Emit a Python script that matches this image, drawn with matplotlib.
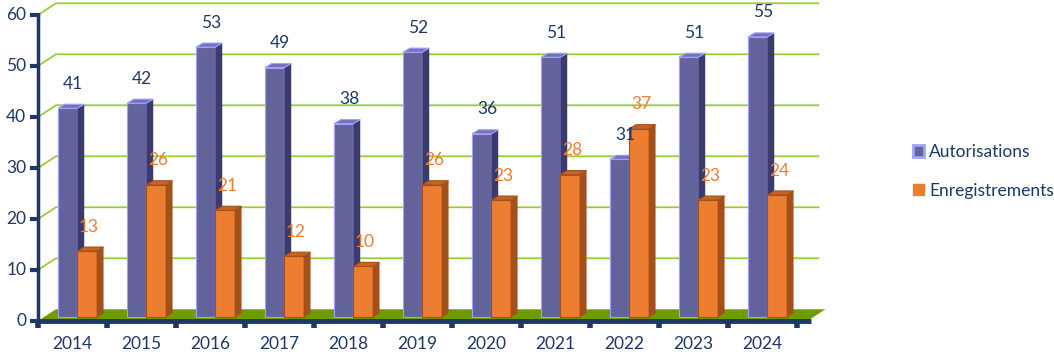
import matplotlib.pyplot as plt
from matplotlib.patches import Polygon, Patch
import numpy as np

years = ["2014", "2015", "2016", "2017", "2018", "2019", "2020", "2021", "2022", "2023", "2024"]
autorisations = [41, 42, 53, 49, 38, 52, 36, 51, 31, 51, 55]
enregistrements = [13, 26, 21, 12, 10, 26, 23, 28, 37, 23, 24]

plt.rcParams["font.family"] = ["Lato", "DejaVu Sans"]

navy = "#1f3864"
grid_green = "#9acd32"
floor_green = "#6f9a00"
blue_front, blue_side, blue_top, blue_edge = "#63639c", "#3b3b6b", "#7272b8", "#a0a0ff"
or_front, or_side, or_top = "#ed7d31", "#a4501b", "#c8641f"

# depth offsets (data units)
WDX, WDY = 0.26, 2.3     # back wall
BDX, BDY = 0.10, 0.8     # bar depth
BASE = 0.7               # bars stand a little into the floor
bw = 0.28
fs = 12.5

fig = plt.figure(figsize=(10.54, 3.52), dpi=100)
ax = fig.add_axes([38 / 1054, 31 / 352, 759 / 1054, 306 / 352])
ax.set_xlim(0, 11)
ax.set_ylim(0, 60)
ax.axis("off")

n = len(years)
x = np.arange(n)

# back wall grid lines
for v in range(10, 61, 10):
    ax.plot([0, WDX, n + WDX + 0.05], [v, v + WDY, v + WDY], color=grid_green,
            lw=1.3, clip_on=False, zorder=1)

# floor
ax.add_patch(Polygon([(0, 0), (n + 0.15, 0), (n + 0.15 + WDX, WDY), (WDX, WDY)],
                     closed=True, facecolor=floor_green, edgecolor="none",
                     clip_on=False, zorder=2))


def bar3d(x0, v, front, side, top, edge, z):
    b = BASE
    ax.bar(x0, v, width=bw, bottom=b, align="edge", color=front, edgecolor=edge,
           linewidth=0.8, zorder=z, clip_on=False)
    t = v + b
    ax.add_patch(Polygon([(x0 + bw, b), (x0 + bw + BDX, b + BDY), (x0 + bw + BDX, t + BDY),
                          (x0 + bw, t)], closed=True, facecolor=side, edgecolor="none",
                         zorder=z + 0.1, clip_on=False))
    ax.add_patch(Polygon([(x0, t), (x0 + BDX, t + BDY), (x0 + bw + BDX, t + BDY),
                          (x0 + bw, t)], closed=True, facecolor=top, edgecolor=edge,
                         linewidth=0.8, zorder=z + 0.2, clip_on=False))


for i in range(n):
    xb = x[i] + 0.29
    xo = xb + bw
    bar3d(xb, autorisations[i], blue_front, blue_side, blue_top, blue_edge, 3 + i)
    bar3d(xo, enregistrements[i], or_front, or_side, or_top, or_side, 3.5 + i)
    ax.text(xb + bw / 2 + 0.08, autorisations[i] + 5.5, str(autorisations[i]),
            ha="center", va="center", fontsize=fs, color=navy, zorder=30)
    ax.text(xo + bw / 2 + 0.03, enregistrements[i] + 5.5, str(enregistrements[i]),
            ha="center", va="center", fontsize=fs, color=or_front, zorder=30)

# axes lines
ax.plot([0, 0], [0, 60], color=navy, lw=2.5, clip_on=False, zorder=40)
ax.plot([0, n + 0.2], [0, 0], color=navy, lw=3.5, clip_on=False, zorder=40,
        solid_capstyle="butt")
for v in range(0, 61, 10):
    ax.plot([-0.08, 0], [v, v], color=navy, lw=3, clip_on=False, zorder=40)
    ax.text(-0.17, v, str(v), ha="right", va="center", fontsize=fs, color=navy)
for i in range(n + 1):
    ax.plot([i, i], [0, -1.4], color=navy, lw=4, clip_on=False, zorder=40,
            solid_capstyle="butt")
for i in range(n):
    ax.text(x[i] + 0.5, -4.6, years[i], ha="center", va="center", fontsize=fs, color=navy)

handles = [Patch(facecolor=blue_front, edgecolor=blue_edge, linewidth=2),
           Patch(facecolor=or_front, edgecolor=or_front)]
fig.legend(handles, ["Autorisations", "Enregistrements"], loc="center left",
           bbox_to_anchor=(897 / 1054, 0.513), frameon=False, fontsize=fs,
           handlelength=0.65, handleheight=0.65, handletextpad=0.3, labelspacing=1.3,
           labelcolor=navy)

fig.savefig("out.png", dpi=100)
